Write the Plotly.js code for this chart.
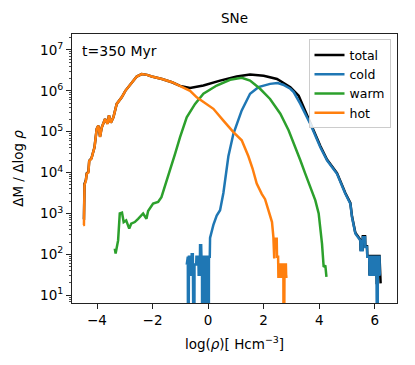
<!DOCTYPE html>
<html>
<head>
<meta charset="utf-8">
<script src="https://cdn.plot.ly/plotly-3.0.1.min.js"></script>
<style>
  html, body { margin: 0; padding: 0; background: #fff; }
  #chart { width: 415px; height: 365px; }
</style>
</head>
<body>
<div id="chart"></div>
<script>
// log10(rho) positions and log10(dM/dlog rho) values
// (-3 marks an empty bin, which falls below the axis)
const hotX = [-4.50, -4.47, -4.45, -4.40, -4.37, -4.31, -4.28, -4.20, -4.09, -4.01, -3.95, -3.89, -3.83, -3.71,
  -3.62, -3.57, -3.50, -3.41, -3.29, -3.11, -2.98, -2.75, -2.57, -2.39, -2.20, -2.03, -1.66, -1.30, -1.01,
  -0.65, -0.41, -0.17, 0.19, 0.55, 0.91, 1.21, 1.45, 1.60, 1.75, 1.93, 2.05, 2.17, 2.30, 2.35, 2.36, 2.38,
  2.39, 2.47, 2.48, 2.52, 2.53, 2.57, 2.58, 2.63, 2.64, 2.68, 2.69, 2.71, 2.72, 2.74, 2.75, 2.80, 2.81, 2.86];
const hotLog = [2.71, 2.72, 3.70, 3.80, 3.97, 4.00, 4.28, 4.34, 4.62, 5.07, 5.15, 4.87, 5.10, 5.31,
  5.19, 5.40, 5.22, 5.35, 5.68, 5.84, 6.00, 6.21, 6.35, 6.41, 6.39, 6.35, 6.29, 6.21, 6.12,
  6.00, 5.84, 5.72, 5.56, 5.27, 4.99, 4.79, 4.40, 4.10, 3.73, 3.48, 3.35, 3.08, 2.79, 2.42, 1.90, 1.90,
  2.38, 2.38, 1.94, 1.94, 1.45, 1.45, 1.75, 1.75, 1.45, 1.45, 1.75, 1.75, -3, -3, 1.75, 1.75, 1.45, 1.45];

const coldX = [-0.77, -0.75, -0.73, -0.72, -0.70, -0.69, -0.66, -0.65, -0.60, -0.59, -0.55, -0.53, -0.50,
  -0.49, -0.43, -0.42, -0.35, -0.34, -0.30, -0.29, -0.25, -0.24, -0.22, -0.21, -0.17, -0.16, -0.12, -0.11,
  -0.08, -0.07, -0.02, -0.01, 0.02, 0.03, 0.06, 0.07, 0.19, 0.31, 0.43, 0.55, 0.62, 0.73, 0.91, 1.21, 1.51,
  1.81, 2.23, 2.50, 2.70, 2.96, 3.08, 3.32, 3.68, 4.04, 4.28, 4.64, 4.94, 5.12, 5.18, 5.30, 5.48, 5.49,
  5.56, 5.57, 5.65, 5.66, 5.72, 5.73, 5.80, 5.81, 5.86, 5.87, 5.93, 5.94, 6.00, 6.01, 6.06, 6.07, 6.10,
  6.11, 6.17, 6.18, 6.21];
const coldLog = [1.75, 1.94, 1.94, -3, -3, 1.94, 1.94, 1.50, 1.50, 2.00, 2.00, -3, -3,
  1.75, 1.75, 1.94, 1.94, 1.50, 1.50, 2.22, 2.22, 1.94, 1.94, -3, -3, 1.94, 1.94, -3,
  -3, 1.94, 1.94, -3, -3, 1.94, 1.94, 2.40, 2.72, 2.95, 3.08, 3.50, 3.90, 4.40, 4.95, 5.52, 5.93,
  6.09, 6.17, 6.19, 6.15, 6.05, 5.97, 5.68, 5.19, 4.62, 4.30, 3.97, 3.48, 3.24, 2.91, 2.51, 2.34, 2.10,
  2.10, 2.42, 2.42, 2.18, 2.18, 1.94, 1.94, 1.50, 1.50, 1.94, 1.94, 1.50, 1.50, 1.94, 1.94, -3, -3,
  1.94, 1.94, 1.50, 1.50];

const warmX = [-3.36, -3.33, -3.24, -3.18, -3.10, -3.04, -2.95, -2.84, -2.77, -2.64, -2.52, -2.34, -2.22,
  -2.16, -1.98, -1.80, -1.68, -1.56, -1.38, -1.19, -1.01, -0.77, -0.47, -0.17, 0.31, 0.79, 1.21, 1.51,
  1.87, 2.23, 2.60, 2.90, 3.20, 3.32, 3.50, 3.74, 3.86, 3.98, 4.10, 4.16, 4.22, 4.26];
const warmLog = [2.14, 2.02, 2.34, 3.00, 3.02, 2.79, 2.83, 2.63, 2.75, 2.79, 2.87, 3.00, 2.87,
  3.06, 3.24, 3.28, 3.40, 3.64, 4.05, 4.46, 4.87, 5.35, 5.68, 5.93, 6.13, 6.27, 6.32, 6.25,
  6.05, 5.80, 5.44, 5.03, 4.54, 4.30, 3.97, 3.56, 3.32, 3.00, 2.26, 1.69, 1.73, 1.45];

const totalX = [-4.50, -4.47, -4.45, -4.40, -4.37, -4.31, -4.28, -4.20, -4.09, -4.01, -3.95, -3.89, -3.83,
  -3.71, -3.62, -3.57, -3.50, -3.41, -3.29, -3.11, -2.98, -2.75, -2.57, -2.39, -2.20, -2.03, -1.66, -1.30,
  -1.01, -0.65, -0.17, 0.43, 1.03, 1.51, 2.00, 2.48, 2.96, 3.26, 3.68, 4.04, 4.28, 4.64, 4.94, 5.12, 5.18,
  5.30, 5.48, 5.49, 5.56, 5.57, 5.65, 5.66, 5.72, 5.73, 5.80, 5.81, 5.86, 5.87, 5.93, 5.94, 6.00, 6.01,
  6.06, 6.07, 6.10, 6.11, 6.17, 6.18, 6.21];
const totalLog = [2.85, 2.86, 3.72, 3.82, 3.98, 4.02, 4.29, 4.35, 4.62, 5.07, 5.15, 4.88, 5.10,
  5.31, 5.20, 5.40, 5.22, 5.35, 5.68, 5.84, 6.00, 6.21, 6.35, 6.41, 6.39, 6.35, 6.29, 6.21,
  6.12, 6.07, 6.13, 6.25, 6.35, 6.40, 6.37, 6.29, 6.09, 5.88, 5.21, 4.65, 4.32, 3.99, 3.50, 3.26, 2.93,
  2.53, 2.36, 2.12, 2.12, 2.44, 2.44, 2.20, 2.20, 1.96, 1.96, 1.52, 1.52, 1.96, 1.96, 1.52, 1.52, 1.96,
  1.96, 1.30, 1.30, 1.96, 1.96, 1.50, 1.29];

const seriesNames = ['total', 'cold', 'warm', 'hot'];
const seriesColors = ['#000000', '#1f77b4', '#2ca02c', '#ff7f0e'];
const yTickVals = [1e1, 1e2, 1e3, 1e4, 1e5, 1e6, 1e7];
const yTickText = ['10<sup>1</sup>', '10<sup>2</sup>', '10<sup>3</sup>', '10<sup>4</sup>',
  '10<sup>5</sup>', '10<sup>6</sup>', '10<sup>7</sup>'];
const xTickVals = [-4, -2, 0, 2, 4, 6];

// minor log ticks 2..9 inside each decade
const yMinorVals = [];
for (let d = 0; d <= 7; d++) {
  for (let m = 2; m <= 9; m++) yMinorVals.push(m * Math.pow(10, d));
}

const toMass = logs => logs.map(v => Math.pow(10, v));

const xs = [totalX, coldX, warmX, hotX];
const ys = [totalLog, coldLog, warmLog, hotLog];

const traces = seriesNames.map((name, i) => ({
  x: xs[i],
  y: toMass(ys[i]),
  type: 'scatter',
  mode: 'lines',
  name: name,
  line: { color: seriesColors[i], width: 2.5 }
}));

const axisFont = { family: 'DejaVu Sans', size: 13.5, color: '#000' };

const layout = {
  width: 415,
  height: 365,
  margin: { l: 72, r: 18, t: 34, b: 62 },
  paper_bgcolor: '#fff',
  plot_bgcolor: '#fff',
  font: axisFont,
  showlegend: true,
  title: {
    text: 'SNe',
    font: { family: 'DejaVu Sans', size: 13.5, color: '#000' },
    x: 0.565, xanchor: 'center',
    y: 0.951, yanchor: 'middle'
  },
  xaxis: {
    range: [-4.9, 6.8],
    tickvals: xTickVals,
    ticktext: xTickVals.map(v => v < 0 ? '\u2212' + Math.abs(v) : String(v)),
    ticks: 'outside', ticklen: 5, tickwidth: 1, tickcolor: '#222',
    showgrid: false, zeroline: false,
    showline: true, linecolor: '#222', linewidth: 1, mirror: true,
    tickfont: axisFont,
    title: { text: 'log(<i>ρ</i>)[ Hcm<sup>\u22123</sup>]', font: axisFont, standoff: 12 }
  },
  yaxis: {
    type: 'log',
    range: [0.81, 7.39],
    tickvals: yTickVals,
    ticktext: yTickText,
    ticks: 'outside', ticklen: 5, tickwidth: 1, tickcolor: '#222',
    minor: { tickmode: 'array', tickvals: yMinorVals, ticks: 'outside', ticklen: 2.5,
      tickwidth: 0.8, tickcolor: '#222', showgrid: false },
    showgrid: false, zeroline: false,
    showline: true, linecolor: '#222', linewidth: 1, mirror: true,
    tickfont: axisFont,
    title: { text: 'ΔM / Δlog <i>ρ</i>', font: axisFont, standoff: 13 }
  },
  legend: {
    x: 0.98, xanchor: 'right',
    y: 0.98, yanchor: 'top',
    bgcolor: 'rgba(255,255,255,0.85)',
    bordercolor: '#cccccc',
    borderwidth: 1,
    font: { family: 'DejaVu Sans', size: 12.5, color: '#000' },
    itemwidth: 30,
    tracegroupgap: 0
  },
  annotations: [{
    text: 't=350 Myr',
    xref: 'paper', yref: 'paper',
    x: 0.025, xanchor: 'left',
    y: 0.938, yanchor: 'middle',
    showarrow: false,
    font: { family: 'DejaVu Sans', size: 14, color: '#000' }
  }]
};

Plotly.newPlot('chart', traces, layout, { displayModeBar: false, staticPlot: true });
</script>
</body>
</html>
